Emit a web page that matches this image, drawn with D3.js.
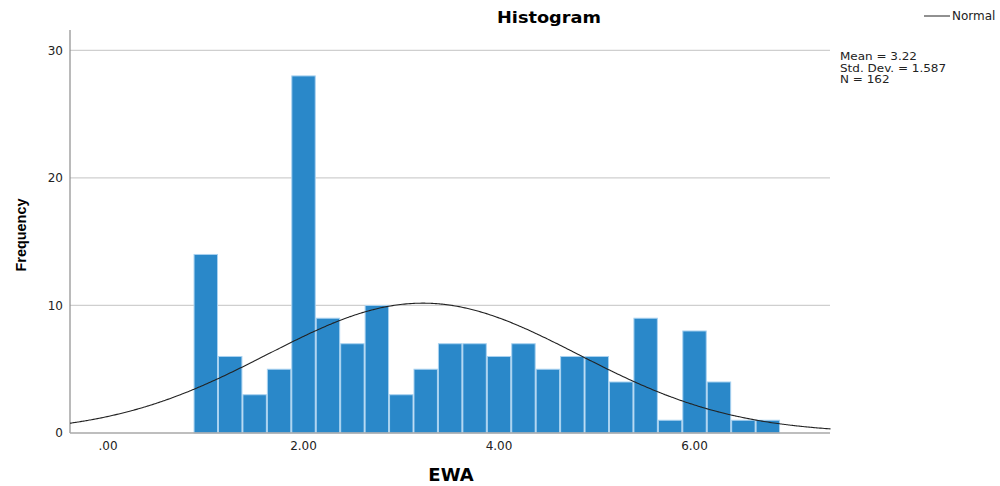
<!DOCTYPE html>
<html>
<head>
<meta charset="utf-8">
<script src="https://cdn.jsdelivr.net/npm/d3@7"></script>
<style>
  body { margin: 0; background: #fff; }
  svg { font-family: "DejaVu Sans", "Liberation Sans", Arial, sans-serif; }
</style>
</head>
<body>
<div id="chart"></div>
<script>
// bin edges start at 0.875 with width 0.25 (bins centred on 1.00, 1.25, ...)
const binStart = 0.875;
const binWidth = 0.25;
const counts = [14, 6, 3, 5, 28, 9, 7, 10, 3, 5, 7, 7, 6, 7, 5, 6, 6, 4, 9, 1, 8, 4, 1, 1];
const xTicks = [0, 2, 4, 6];
const yTicks = [0, 10, 20, 30];
const stats = { mean: 3.22, sd: 1.587, n: 162 };
const statLines = ["Mean = 3.22", "Std. Dev. = 1.587", "N = 162"];

const width = 1000, height = 486;
const margin = { top: 30, right: 170, bottom: 53, left: 70 };

const svg = d3.select("#chart").append("svg")
    .attr("width", width)
    .attr("height", height);

const x = d3.scaleLinear()
    .domain([-0.389, 7.386])
    .range([margin.left, width - margin.right]);

const y = d3.scaleLinear()
    .domain([0, 31.6])
    .range([height - margin.bottom, margin.top]);

// grid lines
svg.append("g")
    .selectAll("line")
    .data(yTicks.filter(d => d > 0))
    .enter().append("line")
    .attr("x1", x.range()[0])
    .attr("x2", x.range()[1])
    .attr("y1", d => y(d))
    .attr("y2", d => y(d))
    .attr("stroke", "#cfcfcf")
    .attr("stroke-width", 1.2);

// bars
const bins = counts.map((c, i) => ({ x0: binStart + i * binWidth, x1: binStart + (i + 1) * binWidth, c }));
svg.append("g")
    .selectAll("rect")
    .data(bins)
    .enter().append("rect")
    .attr("x", d => x(d.x0) + 0.5)
    .attr("width", d => x(d.x1) - x(d.x0) - 1)
    .attr("y", d => y(d.c))
    .attr("height", d => y(0) - y(d.c))
    .attr("fill", "#2a88c9")
    .attr("stroke", "#a9d2f0")
    .attr("stroke-width", 1);

// axes lines
svg.append("line")
    .attr("x1", x.range()[0]).attr("x2", x.range()[0])
    .attr("y1", margin.top).attr("y2", y(0))
    .attr("stroke", "#8c8c8c").attr("stroke-width", 1.2);
svg.append("line")
    .attr("x1", x.range()[0]).attr("x2", x.range()[1])
    .attr("y1", y(0)).attr("y2", y(0))
    .attr("stroke", "#a8a8a8").attr("stroke-width", 1.5);

// y tick labels
svg.append("g")
    .selectAll("text")
    .data(yTicks)
    .enter().append("text")
    .attr("x", x.range()[0] - 7)
    .attr("y", d => y(d))
    .attr("dy", "0.35em")
    .attr("text-anchor", "end")
    .attr("font-size", 12)
    .attr("fill", "#222")
    .text(d => d);

// x tick labels
svg.append("g")
    .selectAll("text")
    .data(xTicks)
    .enter().append("text")
    .attr("x", d => x(d))
    .attr("y", y(0) + 17)
    .attr("text-anchor", "middle")
    .attr("font-size", 12)
    .attr("fill", "#222")
    .text(d => d === 0 ? ".00" : d3.format(".2f")(d));

// normal curve
const scale = stats.n * binWidth / (stats.sd * Math.sqrt(2 * Math.PI));
const curveX = d3.range(x.domain()[0], x.domain()[1] + 0.01, 0.02);
const line = d3.line()
    .x(d => x(d))
    .y(d => y(scale * Math.exp(-0.5 * Math.pow((d - stats.mean) / stats.sd, 2))))
    .curve(d3.curveMonotoneX);
svg.append("path")
    .datum(curveX)
    .attr("fill", "none")
    .attr("stroke", "#222")
    .attr("stroke-width", 1.1)
    .attr("d", line);

// title
svg.append("text")
    .attr("x", 549)
    .attr("y", 23)
    .attr("text-anchor", "middle")
    .attr("font-size", 15.5)
    .attr("font-weight", "bold")
    .attr("textLength", 104)
    .attr("lengthAdjust", "spacingAndGlyphs")
    .text("Histogram");

// axis titles
svg.append("text")
    .attr("x", 451)
    .attr("y", 481)
    .attr("text-anchor", "middle")
    .attr("font-size", 18)
    .attr("font-weight", "bold")
    .text("EWA");

svg.append("text")
    .attr("transform", "translate(26,235) rotate(-90)")
    .attr("text-anchor", "middle")
    .attr("font-family", "Liberation Sans, Arial, sans-serif")
    .attr("font-size", 15)
    .attr("font-weight", "bold")
    .attr("textLength", 73)
    .attr("lengthAdjust", "spacingAndGlyphs")
    .text("Frequency");

// legend
svg.append("line")
    .attr("x1", 924).attr("x2", 950)
    .attr("y1", 16).attr("y2", 16)
    .attr("stroke", "#222").attr("stroke-width", 1);
svg.append("text")
    .attr("x", 952)
    .attr("y", 20)
    .attr("font-size", 12)
    .attr("fill", "#222")
    .text("Normal");

// stats (tight lines, slightly stretched like SPSS output)
svg.append("g")
    .attr("transform", "translate(840,0) scale(1.2,1)")
    .selectAll("text")
    .data(statLines)
    .enter().append("text")
    .attr("x", 0)
    .attr("y", (d, i) => 60.5 + i * 11.5)
    .attr("font-size", 10)
    .attr("fill", "#222")
    .text(d => d);
</script>
</body>
</html>
